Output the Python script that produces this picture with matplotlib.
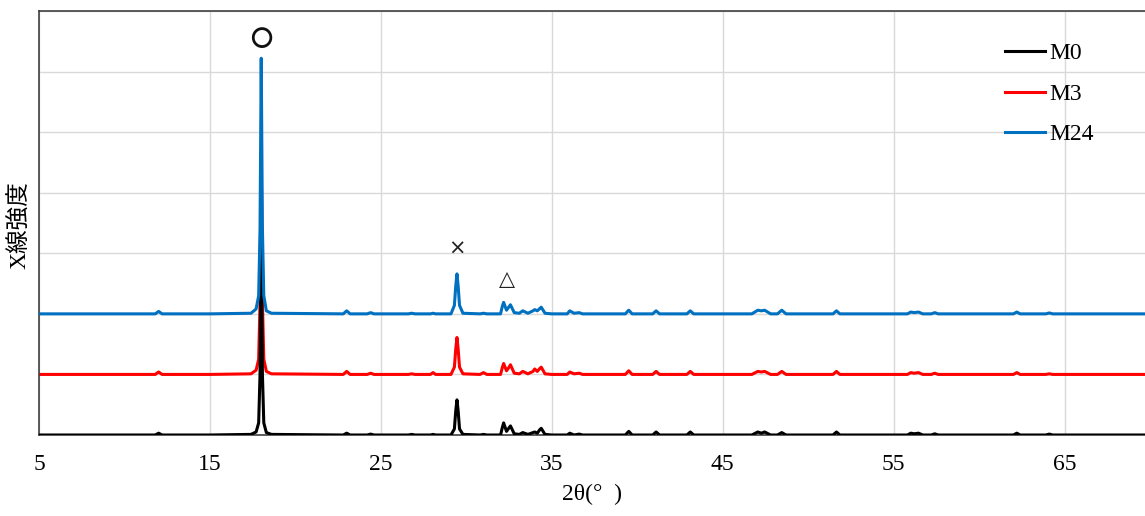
import matplotlib.pyplot as plt

# 2theta sample points, shared by the three scans
two_theta = [5.0, 8.0, 11.8, 12.0, 12.2, 15.0, 17.4, 17.7, 17.85, 17.93, 18.0, 18.07, 18.15,
             18.3, 18.6, 22.8, 23.0, 23.2, 24.2, 24.4, 24.6, 26.6, 26.8, 27.0, 27.9, 28.05,
             28.2, 29.1, 29.3, 29.38, 29.45, 29.52, 29.6, 29.8, 30.8, 31.0, 31.2, 32.0,
             32.1, 32.18, 32.35, 32.5, 32.58, 32.8, 33.1, 33.3, 33.6, 33.9, 34.0, 34.15,
             34.3, 34.38, 34.6, 35.0, 35.9, 36.05, 36.3, 36.6, 36.8, 39.3, 39.5, 39.7,
             40.9, 41.1, 41.3, 42.9, 43.1, 43.3, 46.7, 47.05, 47.25, 47.45, 47.8, 48.2,
             48.45, 48.7, 51.45, 51.65, 51.85, 55.8, 56.0, 56.2, 56.45, 56.7, 57.2, 57.4,
             57.6, 62.0, 62.2, 62.4, 63.9, 64.1, 64.3, 69.7]

# net intensity (x1000 counts) for each scan
m0 = [0.0, 0.0, 0.0, 0.03, 0.0, 0.0, 0.01, 0.05, 0.2, 1.0, 3.3, 1.0, 0.2,
      0.04, 0.01, 0.0, 0.03, 0.0, 0.0, 0.015, 0.0, 0.0, 0.01, 0.0, 0.0, 0.01,
      0.0, 0.0, 0.1, 0.4, 0.58, 0.4, 0.1, 0.01, 0.0, 0.01, 0.0, 0.0,
      0.12, 0.2, 0.06, 0.12, 0.15, 0.02, 0.01, 0.04, 0.01, 0.04, 0.05, 0.03,
      0.09, 0.11, 0.01, 0.0, 0.0, 0.03, 0.0, 0.015, 0.0, 0.0, 0.06, 0.0,
      0.0, 0.05, 0.0, 0.0, 0.05, 0.0, 0.0, 0.05, 0.03, 0.05, 0.0, 0.0,
      0.04, 0.0, 0.0, 0.05, 0.0, 0.0, 0.03, 0.02, 0.03, 0.0, 0.0, 0.02,
      0.0, 0.0, 0.03, 0.0, 0.0, 0.015, 0.0, 0.0]
m3 = [0.0, 0.0, 0.0, 0.04, 0.0, 0.0, 0.01, 0.07, 0.25, 1.2, 3.6, 1.2, 0.25,
      0.05, 0.01, 0.0, 0.05, 0.0, 0.0, 0.02, 0.0, 0.0, 0.01, 0.0, 0.0, 0.03,
      0.0, 0.0, 0.12, 0.42, 0.61, 0.42, 0.12, 0.01, 0.0, 0.03, 0.0, 0.0,
      0.11, 0.18, 0.06, 0.12, 0.16, 0.02, 0.01, 0.05, 0.01, 0.05, 0.09, 0.05,
      0.1, 0.12, 0.01, 0.0, 0.0, 0.04, 0.01, 0.02, 0.0, 0.0, 0.06, 0.0,
      0.0, 0.05, 0.0, 0.0, 0.05, 0.0, 0.0, 0.05, 0.04, 0.05, 0.0, 0.0,
      0.05, 0.0, 0.0, 0.05, 0.0, 0.0, 0.03, 0.02, 0.03, 0.0, 0.0, 0.02,
      0.0, 0.0, 0.03, 0.0, 0.0, 0.01, 0.0, 0.0]
m24 = [0.0, 0.0, 0.0, 0.04, 0.0, 0.0, 0.01, 0.08, 0.3, 1.4, 4.22, 1.4, 0.3,
       0.05, 0.01, 0.0, 0.05, 0.0, 0.0, 0.02, 0.0, 0.0, 0.01, 0.0, 0.0, 0.01,
       0.0, 0.0, 0.14, 0.46, 0.66, 0.46, 0.14, 0.01, 0.0, 0.01, 0.0, 0.0,
       0.12, 0.19, 0.06, 0.12, 0.15, 0.02, 0.01, 0.05, 0.01, 0.05, 0.07, 0.05,
       0.09, 0.11, 0.01, 0.0, 0.0, 0.05, 0.01, 0.02, 0.0, 0.0, 0.06, 0.0,
       0.0, 0.05, 0.0, 0.0, 0.05, 0.0, 0.0, 0.06, 0.05, 0.06, 0.0, 0.0,
       0.06, 0.0, 0.0, 0.05, 0.0, 0.0, 0.03, 0.02, 0.03, 0.0, 0.0, 0.02,
       0.0, 0.0, 0.03, 0.0, 0.0, 0.015, 0.0, 0.0]

series = ["M0", "M3", "M24"]
offsets = [0.0, 1.0, 2.0]
colors = ["#000000", "#ff0000", "#0070c0"]
x_ticks = [5, 15, 25, 35, 45, 55, 65]

# phase markers: (symbol, 2theta, height)
markers = [("〇", 18.0, 6.53), ("×", 29.45, 3.07), ("△", 32.37, 2.58)]

serif = ["Liberation Serif", "Noto Sans CJK JP"]
plt.rcParams["font.family"] = serif

fig = plt.figure(figsize=(11.45, 5.16), dpi=100)
ax = fig.add_axes([39 / 1145, 1 - 435 / 516, 1 - 39 / 1145, (435 - 11) / 516])

zorders = [3, 2, 4]
for name, ys, off, c, z in zip(series, [m0, m3, m24], offsets, colors, zorders):
    ax.plot(two_theta, [v + off for v in ys], color=c, lw=2.2, label=name, zorder=z,
            solid_joinstyle="round")

for sym, xx, yy in markers:
    if sym == "〇":
        ax.text(xx, yy, sym, ha="center", va="center", fontsize=16, fontweight="bold",
                family=["Noto Sans CJK JP"], color="#111111")
    else:
        ax.text(xx, yy, sym, ha="center", va="center", fontsize=15,
                family=["DejaVu Sans"], color="#222222")

ax.set_xlim(5, 69.7)
ax.set_ylim(0, 7)
ax.set_xticks(x_ticks)
ax.set_yticks(range(0, 8))
ax.set_yticklabels([])
ax.tick_params(axis="both", length=0, labelsize=17, pad=14)
ax.grid(True, color="#d9d9d9", lw=1.0, zorder=0)
ax.set_axisbelow(True)
for s in ["top", "left", "bottom"]:
    ax.spines[s].set_color("#404040")
    ax.spines[s].set_linewidth(1.2)
ax.spines["right"].set_visible(False)

ax.set_xlabel("2θ(°  )", fontsize=17, labelpad=6)
fig.text(20 / 1145, 1 - 225 / 516, "X線強度", rotation=90, ha="center", va="center",
         fontsize=17)

ax.legend(loc="upper right", bbox_to_anchor=(0.973, 0.975), frameon=False, fontsize=17,
          handlelength=1.7, handletextpad=0.2, labelspacing=0.8)

fig.savefig("out.png", dpi=100)
